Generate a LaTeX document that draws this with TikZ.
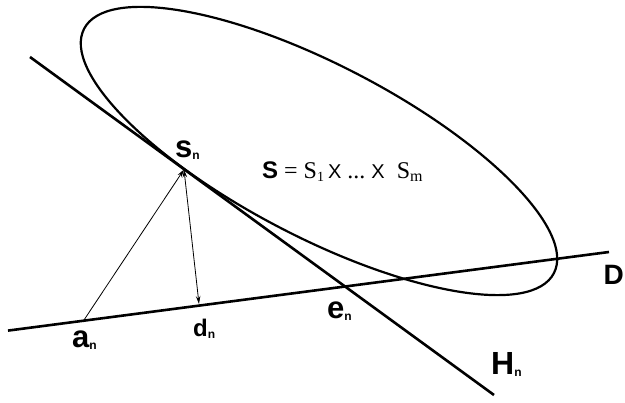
\documentclass[tikz,border=0pt]{standalone}
\usepackage{fontspec}
\setmainfont{Liberation Sans}
\newfontfamily\serifS{Liberation Serif}
\usetikzlibrary{arrows.meta}
\newcommand{\lab}[3]{{\fontsize{#2}{#2}\selectfont\bfseries #1\raisebox{-2pt}{\fontsize{#3}{#3}\selectfont n}}}
\begin{document}
\begin{tikzpicture}[x=1pt,y=-1pt,
  thickline/.style={line width=2.6pt},
  ell/.style={line width=2.2pt},
  thinarrow/.style={line width=0.8pt,-{Stealth[length=8pt,width=4.5pt]}},
  dblarrow/.style={line width=0.8pt,{Stealth[length=8pt,width=4.5pt]}-{Stealth[length=8pt,width=4.5pt]}},
  lbl/.style={inner sep=0pt,anchor=base west}]
\useasboundingbox (0,0) rectangle (625,403);
\coordinate (Hs) at (30,57);
\coordinate (He) at (494,395);
\coordinate (Ds) at (8,330.6);
\coordinate (De) at (609,252);
\coordinate (a) at (84,320);
\coordinate (s) at (184,169.5);
\coordinate (d) at (199,304);
\coordinate (c) at (319,151);
\draw[ell,rotate around={-27.5:(c)}] (c) ellipse [x radius=264.8, y radius=86];
\draw[thickline] (Hs) -- (He);
\draw[thickline] (Ds) -- (De);
\draw[thinarrow] (a) -- (s);
\draw[dblarrow] (s) -- (d);
\node[lbl] (sn) at (175,158) {\lab{s}{31}{12}};
\node[lbl] (an) at (72,348) {\lab{a}{31}{12}};
\node[lbl] (dn) at (193,337) {\lab{d}{24}{12}};
\node[lbl] (en) at (327,319) {\lab{e}{31}{12}};
\node[lbl] (Hn) at (491,375) {\lab{H}{32}{12}};
\node[inner sep=0pt,anchor=base east] (Dl) at (624,285) {{\fontsize{28}{28}\selectfont\bfseries D}};
\node[lbl] (Seq) at (262,179) {{\fontsize{24}{24}\selectfont\bfseries S}{\serifS\fontsize{24}{24}\selectfont\ =\ S\raisebox{-3pt}{\fontsize{14}{14}\selectfont 1}\,{\rmfamily\fontsize{20}{20}\selectfont\mdseries X}\ ...\ {\rmfamily\fontsize{20}{20}\selectfont X}\ \ S\raisebox{-3pt}{\fontsize{16}{16}\selectfont m}}};
\end{tikzpicture}
\end{document}
